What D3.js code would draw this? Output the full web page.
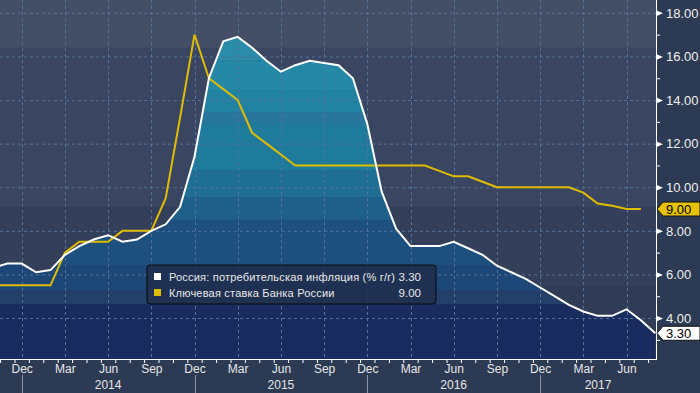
<!DOCTYPE html>
<html>
<head>
<meta charset="utf-8">
<script src="https://cdn.jsdelivr.net/npm/d3@7"></script>
<style>
  body { margin: 0; background: #2d3a53; }
  svg { display: block; font-family: "Liberation Sans", Arial, sans-serif; }
</style>
</head>
<body>
<div id="chart"></div>
<script>
// monthly categories, Oct 2013 .. Aug 2017
var months = d3.timeMonth.range(new Date(2013, 9, 1), new Date(2017, 8, 1));

// Russia CPI, % y/y (Oct 2013 .. Aug 2017)
var cpi = [6.3, 6.5, 6.5,
  6.1, 6.2, 6.9, 7.3, 7.6, 7.8, 7.5, 7.6, 8.0, 8.3, 9.1, 11.4,
  15.0, 16.7, 16.9, 16.4, 15.8, 15.3, 15.6, 15.8, 15.7, 15.6, 15.0, 12.9,
  9.8, 8.1, 7.3, 7.3, 7.3, 7.5, 7.2, 6.9, 6.4, 6.1, 5.8, 5.4,
  5.0, 4.6, 4.3, 4.1, 4.1, 4.4, 3.9, 3.3];

// CBR key rate (Oct 2013 .. Jul 2017)
var keyRate = [5.5, 5.5, 5.5,
  5.5, 5.5, 7.0, 7.5, 7.5, 7.5, 8.0, 8.0, 8.0, 9.5, 13.2, 17.0,
  15.0, 14.5, 14.0, 12.5, 12.0, 11.5, 11.0, 11.0, 11.0, 11.0, 11.0, 11.0,
  11.0, 11.0, 11.0, 11.0, 10.75, 10.5, 10.5, 10.25, 10.0, 10.0, 10.0, 10.0,
  10.0, 10.0, 9.75, 9.25, 9.15, 9.0, 9.0];

var seriesNames = ["Россия: потребительская инфляция (% г/г)", "Ключевая ставка Банка России"];
var lastValues = ["3.30", "9.00"];
var yTicks = [4, 6, 8, 10, 12, 14, 16, 18];
var yMinor = [3, 5, 7, 9, 11, 13, 15, 17];

var width = 700, height = 393,
    plotW = 656, plotH = 359;

var svg = d3.select("#chart").append("svg")
    .attr("width", width)
    .attr("height", height);

var x = d3.scaleLinear().domain([0, 46]).range([-7.1, 655.3]);
var y = d3.scaleLinear().domain([2.12, 18.59]).range([plotH, 0]);

var defs = svg.append("defs");
defs.append("clipPath").attr("id", "plotClip")
  .append("rect").attr("width", plotW).attr("height", plotH);

var area = d3.area()
    .x(function(d, i) { return x(i); })
    .y0(plotH)
    .y1(function(d) { return y(d); });

defs.append("clipPath").attr("id", "areaClip")
  .append("path").attr("d", area(cpi));

// background bands (value ranges)
var bgBands = [
  [16.39, 20, "#444f67"],
  [9.09, 16.39, "#3a4661"],
  [5.42, 9.09, "#344059"],
  [0, 5.42, "#303b55"]
];
// bands inside the inflation area
var areaBands = [
  [15.83, 20, "#2a8ca9"],
  [14.46, 15.83, "#2488a6"],
  [13.45, 14.46, "#2182a1"],
  [12.95, 13.45, "#28769b"],
  [10.79, 12.95, "#1f7b9c"],
  [9.55, 10.79, "#1f6e94"],
  [8.5, 9.55, "#1e6089"],
  [6.43, 8.5, "#1d507f"],
  [5.28, 6.43, "#1c4776"],
  [4.64, 5.28, "#233f6a"],
  [0, 4.64, "#1a2b60"]
];

var plot = svg.append("g").attr("clip-path", "url(#plotClip)");

plot.selectAll(".bg").data(bgBands).enter().append("rect")
    .attr("x", 0).attr("width", plotW)
    .attr("y", function(d) { return y(d[1]); })
    .attr("height", function(d) { return y(d[0]) - y(d[1]); })
    .attr("fill", function(d) { return d[2]; });

plot.append("g").attr("clip-path", "url(#areaClip)")
  .selectAll("rect").data(areaBands).enter().append("rect")
    .attr("x", 0).attr("width", plotW)
    .attr("y", function(d) { return y(d[1]); })
    .attr("height", function(d) { return y(d[0]) - y(d[1]); })
    .attr("fill", function(d) { return d[2]; });

// grid
var quarterIdx = d3.range(months.length).filter(function(i) { return months[i].getMonth() % 3 == 2; });
plot.selectAll(".hgrid").data(yTicks).enter().append("line")
    .attr("x1", 0).attr("x2", plotW)
    .attr("y1", function(d) { return y(d) + 0.5; })
    .attr("y2", function(d) { return y(d) + 0.5; })
    .attr("stroke", "#52729a").attr("stroke-dasharray", "3,3");
plot.selectAll(".vgrid").data(quarterIdx).enter().append("line")
    .attr("y1", 0).attr("y2", plotH)
    .attr("x1", function(d) { return Math.round(x(d)) + 0.5; })
    .attr("x2", function(d) { return Math.round(x(d)) + 0.5; })
    .attr("stroke", "#52729a").attr("stroke-dasharray", "3,3");

var line = d3.line()
    .x(function(d, i) { return x(i); })
    .y(function(d) { return y(d); });

plot.append("path").attr("d", line(keyRate))
    .attr("fill", "none").attr("stroke", "#e0bc00").attr("stroke-width", 2);
plot.append("path").attr("d", line(cpi))
    .attr("fill", "none").attr("stroke", "#ffffff").attr("stroke-width", 2);

// right axis
var yAxis = svg.append("g").attr("transform", "translate(" + plotW + ",0)");
yAxis.call(d3.axisRight(y).tickValues(yTicks).tickSize(0).tickPadding(10).tickFormat(d3.format(".2f")));
yAxis.select(".domain").remove();
yAxis.selectAll(".tick text").attr("fill", "#eeeeee").attr("font-size", 13)
    .attr("font-family", "Liberation Sans, Arial, sans-serif");
yAxis.selectAll(".tick").append("path")
    .attr("d", "M0,-3L7,0L0,3Z").attr("fill", "#ffffff");
var yMinorAxis = svg.append("g").attr("transform", "translate(" + plotW + ",0)");
yMinorAxis.call(d3.axisRight(y).tickValues(yMinor).tickSize(4).tickFormat(""));
yMinorAxis.select(".domain").remove();
yMinorAxis.selectAll("line").attr("stroke", "#ffffff");
svg.append("line").attr("x1", plotW + 0.5).attr("x2", plotW + 0.5)
    .attr("y1", 0).attr("y2", plotH + 1).attr("stroke", "#ffffff");

// bottom axis
var xTicks = d3.range(months.length).map(function(i) { return i - 0.5; })
    .filter(function(d) { return x(d) >= 0 && x(d) <= plotW; });
var xAxis = svg.append("g").attr("transform", "translate(0," + plotH + ")");
xAxis.call(d3.axisBottom(x).tickValues(xTicks).tickSize(4).tickFormat(""));
xAxis.select(".domain").remove();
xAxis.selectAll("line").attr("stroke", "#ffffff");
svg.append("line").attr("x1", 0).attr("x2", plotW + 1)
    .attr("y1", plotH + 0.5).attr("y2", plotH + 0.5).attr("stroke", "#ffffff");

var xLabels = svg.append("g").attr("transform", "translate(0," + plotH + ")");
xLabels.call(d3.axisBottom(x).tickValues(quarterIdx).tickSize(0).tickPadding(5)
    .tickFormat(function(i) { return d3.timeFormat("%b")(months[i]); }));
xLabels.select(".domain").remove();
xLabels.selectAll("text").attr("fill", "#e6e6e6").attr("font-size", 12)
    .attr("font-family", "Liberation Sans, Arial, sans-serif");

// year separators and labels
var decIdx = quarterIdx.filter(function(i) { return months[i].getMonth() == 11; });
svg.selectAll(".sep").data(decIdx).enter().append("line")
    .attr("x1", function(d) { return Math.round(x(d)) + 0.5; })
    .attr("x2", function(d) { return Math.round(x(d)) + 0.5; })
    .attr("y1", 375).attr("y2", height)
    .attr("stroke", "#8a95a8");
svg.selectAll(".year").data(decIdx).enter().append("text")
    .attr("x", function(d, k) {
      var end = k < decIdx.length - 1 ? x(decIdx[k + 1]) : plotW;
      return (x(d) + end) / 2;
    })
    .attr("y", 389)
    .attr("text-anchor", "middle")
    .attr("fill", "#e6e6e6").attr("font-size", 12)
    .text(function(d) { return months[d].getFullYear() + 1; });

// value tags on the right
function tag(v, fill, txt) {
  var cy = y(v);
  svg.append("path")
      .attr("d", "M657," + cy + "L663," + (cy - 7) + "L700," + (cy - 7) + "L700," + (cy + 7) + "L663," + (cy + 7) + "Z")
      .attr("fill", fill).attr("stroke", "#111").attr("stroke-width", 1);
  svg.append("text").attr("x", 666).attr("y", cy + 4.5)
      .attr("font-size", 13).attr("fill", "#000").text(txt);
}
tag(keyRate[keyRate.length - 1], "#e6c200", lastValues[1]);
tag(cpi[cpi.length - 1], "#ffffff", lastValues[0]);

// legend
var legend = svg.append("g").attr("transform", "translate(147,265)");
legend.append("rect").attr("width", 289).attr("height", 39).attr("rx", 3)
    .attr("fill", "rgba(32,46,76,0.85)").attr("stroke", "#0a0a0a");
var legColors = ["#ffffff", "#e0bc00"];
var rows = legend.selectAll(".row").data(seriesNames).enter().append("g")
    .attr("transform", function(d, i) { return "translate(0," + (i * 16) + ")"; });
rows.append("rect").attr("x", 7).attr("y", 8).attr("width", 7).attr("height", 7)
    .attr("fill", function(d, i) { return legColors[i]; });
rows.append("text").attr("x", 22).attr("y", 16)
    .attr("font-size", 11).attr("letter-spacing", 0.2)
    .attr("fill", "#e8e8e8").text(function(d) { return d; });
rows.append("text").attr("x", 274).attr("y", 16).attr("text-anchor", "end")
    .attr("font-size", 11.5).attr("fill", "#e8e8e8").text(function(d, i) { return lastValues[i]; });
</script>
</body>
</html>
